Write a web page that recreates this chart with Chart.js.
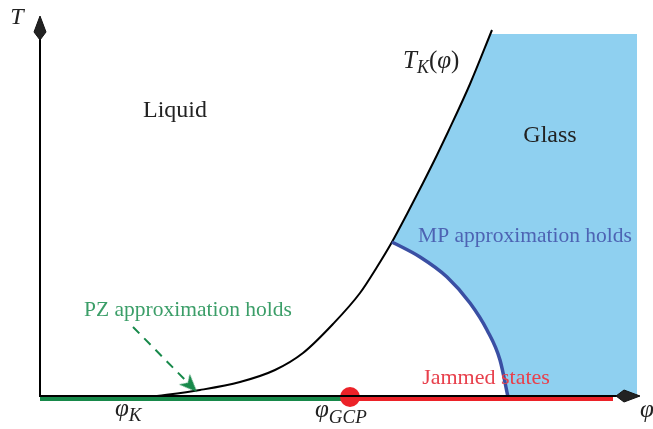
<!DOCTYPE html>
<html>
<head>
<meta charset="utf-8">
<script src="https://cdn.jsdelivr.net/npm/chart.js@4.4.1/dist/chart.umd.min.js"></script>
<style>
  html, body { margin: 0; padding: 0; background: #fff; }
  canvas { display: block; }
</style>
</head>
<body>
<canvas id="phase" width="653" height="429"></canvas>
<script>
// schematic phase diagram, units: phi to the right, T upward (origin at the axes corner)
const tkPhi = [110, 160, 200, 235, 263, 293, 320, 337, 352, 367, 383, 397, 408, 430, 452];
const tkT   = [0,   7,   15,  27,  44,  73,  104, 130, 155, 183, 214, 242, 265, 313, 367];

const mpPhi = [352, 380, 407, 430, 447, 460, 468];
const mpT   = [155, 140, 120, 94,  67,  37,  0];

const glassTop = 363;
const glassRight = 597;

const phiK = 110;
const phiGCP = 310;
const phiJamEnd = 573;
const phiAxisEnd = 588;
const tAxisEnd = 369;

const pzArrowPhi = [93, 157];
const pzArrowT = [70, 5];

const BLUE = '#8fd0f0';
const GREEN = '#17894a';
const RED = '#ec2228';
const MPBLUE = '#3a4fa3';

const pts = (xs, ys) => xs.map((x, i) => ({ x: x, y: ys[i] }));

// upper edge of the glass region: T_K from where MP starts, up to the top, then flat
const glassUpper = pts(tkPhi, tkT).filter(p => p.x >= mpPhi[0] && p.y < glassTop);
(function () {
  const i = tkT.findIndex(t => t >= glassTop);
  const f = (glassTop - tkT[i - 1]) / (tkT[i] - tkT[i - 1]);
  glassUpper.push({ x: tkPhi[i - 1] + f * (tkPhi[i] - tkPhi[i - 1]), y: glassTop });
  glassUpper.push({ x: glassRight, y: glassTop });
})();
const glassLower = pts(mpPhi, mpT).concat([{ x: glassRight, y: 0 }]);

function kite() {
  const c = document.createElement('canvas');
  c.width = 14; c.height = 26;
  const g = c.getContext('2d');
  g.beginPath();
  g.moveTo(7, 1); g.lineTo(13, 17); g.lineTo(7, 25); g.lineTo(1, 17); g.closePath();
  g.fillStyle = '#222'; g.fill();
  g.strokeStyle = '#111'; g.lineWidth = 1; g.stroke();
  return c;
}
function stealth(color) {
  const c = document.createElement('canvas');
  c.width = 16; c.height = 20;
  const g = c.getContext('2d');
  g.beginPath();
  g.moveTo(8, 1); g.lineTo(15.5, 19); g.lineTo(8, 14); g.lineTo(0.5, 19); g.closePath();
  g.fillStyle = color; g.fill();
  return c;
}

// head of the PZ arrow sits a bit back from the tip
const dx = pzArrowPhi[1] - pzArrowPhi[0], dy = pzArrowT[1] - pzArrowT[0];
const len = Math.hypot(dx, dy);
const pzHead = { x: pzArrowPhi[1] - 9 * dx / len, y: pzArrowT[1] - 9 * dy / len };
const pzAngle = Math.atan2(dx, dy) * 180 / Math.PI; // clockwise from screen-up

const line = (data, color, width, order, extra) => Object.assign({
  data: data, showLine: true, borderColor: color, borderWidth: width,
  pointRadius: 0, fill: false, order: order
}, extra || {});

const labels = [
  { parts: [['Liquid', 0, 24, '']], x: 135, y: 287, color: '#222' },
  { parts: [['Glass', 0, 24, '']], x: 510, y: 262, color: '#222' },
  { parts: [['MP approximation holds', 0, 21.5, '']], x: 485, y: 162, color: '#4d63b3' },
  { parts: [['PZ approximation holds', 0, 21.5, '']], x: 148, y: 88, color: '#3b9e68' },
  { parts: [['Jammed states', 0, 22, '']], x: 446, y: 20, color: '#e8404c' },
  { parts: [['T', 0, 24, 'italic ']], x: -23, y: 380, color: '#222' },
  { parts: [['T', 0, 25, 'italic '], ['K', 5, 18, 'italic '], ['(', 0, 25, ''], ['\u03c6', 0, 25, 'italic '], [')', 0, 25, '']], x: 363, y: 329, color: '#222', left: true },
  { parts: [['\u03c6', 0, 25, 'italic '], ['K', 5, 19, 'italic ']], x: 75, y: -19, color: '#222', left: true },
  { parts: [['\u03c6', 0, 25, 'italic '], ['GCP', 6, 19, 'italic ']], x: 275, y: -20, color: '#222', left: true },
  { parts: [['\u03c6', 0, 25, 'italic ']], x: 600, y: -20, color: '#222', left: true }
];

const textPlugin = {
  id: 'texts',
  afterDatasetsDraw(chart) {
    const { ctx, scales: { x, y } } = chart;
    ctx.save();
    ctx.textBaseline = 'alphabetic';
    ctx.textAlign = 'left';
    labels.forEach(l => {
      const fontOf = p => p[3] + p[2] + 'px "Liberation Serif", serif';
      let w = 0;
      l.parts.forEach(p => { ctx.font = fontOf(p); w += ctx.measureText(p[0]).width; });
      let px = x.getPixelForValue(l.x);
      const py = y.getPixelForValue(l.y) + (l.left ? 0 : 7);
      if (!l.left) px -= w / 2;
      ctx.fillStyle = l.color;
      l.parts.forEach(p => {
        ctx.font = fontOf(p);
        ctx.fillText(p[0], px, py + p[1]);
        px += ctx.measureText(p[0]).width;
      });
    });
    ctx.restore();
  }
};

new Chart(document.getElementById('phase'), {
  type: 'scatter',
  data: {
    datasets: [
      line(glassUpper, 'rgba(0,0,0,0)', 0, 20, { fill: '+1', backgroundColor: BLUE, tension: 0 }),
      line(glassLower, 'rgba(0,0,0,0)', 0, 21, { tension: 0 }),
      line(pts(tkPhi, tkT), '#000', 2, 10, { cubicInterpolationMode: 'monotone' }),
      line(pts(mpPhi, mpT), MPBLUE, 3.5, 9, { cubicInterpolationMode: 'monotone' }),
      line([{ x: 0, y: -2 }, { x: phiGCP, y: -2 }], GREEN, 4, 8),
      line([{ x: phiGCP, y: -2 }, { x: phiJamEnd, y: -2 }], RED, 4, 8),
      { data: [{ x: phiGCP, y: 0 }], pointRadius: 10, backgroundColor: RED, borderWidth: 0, order: 7 },
      line([{ x: 0, y: 1 }, { x: phiAxisEnd - 3, y: 1 }], '#000', 2, 5),
      line([{ x: 0, y: 0 }, { x: 0, y: tAxisEnd - 4 }], '#000', 2, 5),
      { data: [{ x: 0, y: tAxisEnd }], pointStyle: kite(), rotation: 0, order: 4 },
      { data: [{ x: phiAxisEnd, y: 1 }], pointStyle: kite(), rotation: 90, order: 4 },
      line([pts(pzArrowPhi, pzArrowT)[0], pzHead], GREEN, 2, 3, { borderDash: [9, 7] }),
      { data: [pzHead], pointStyle: stealth(GREEN), rotation: pzAngle, order: 2 }
    ]
  },
  options: {
    responsive: false,
    animation: false,
    devicePixelRatio: 1,
    layout: { padding: 0, autoPadding: false },
    plugins: { legend: { display: false }, tooltip: { enabled: false } },
    scales: {
      x: { type: 'linear', min: -40, max: 613, display: false },
      y: { type: 'linear', min: -32, max: 397, display: false }
    }
  },
  plugins: [textPlugin]
});
</script>
</body>
</html>
